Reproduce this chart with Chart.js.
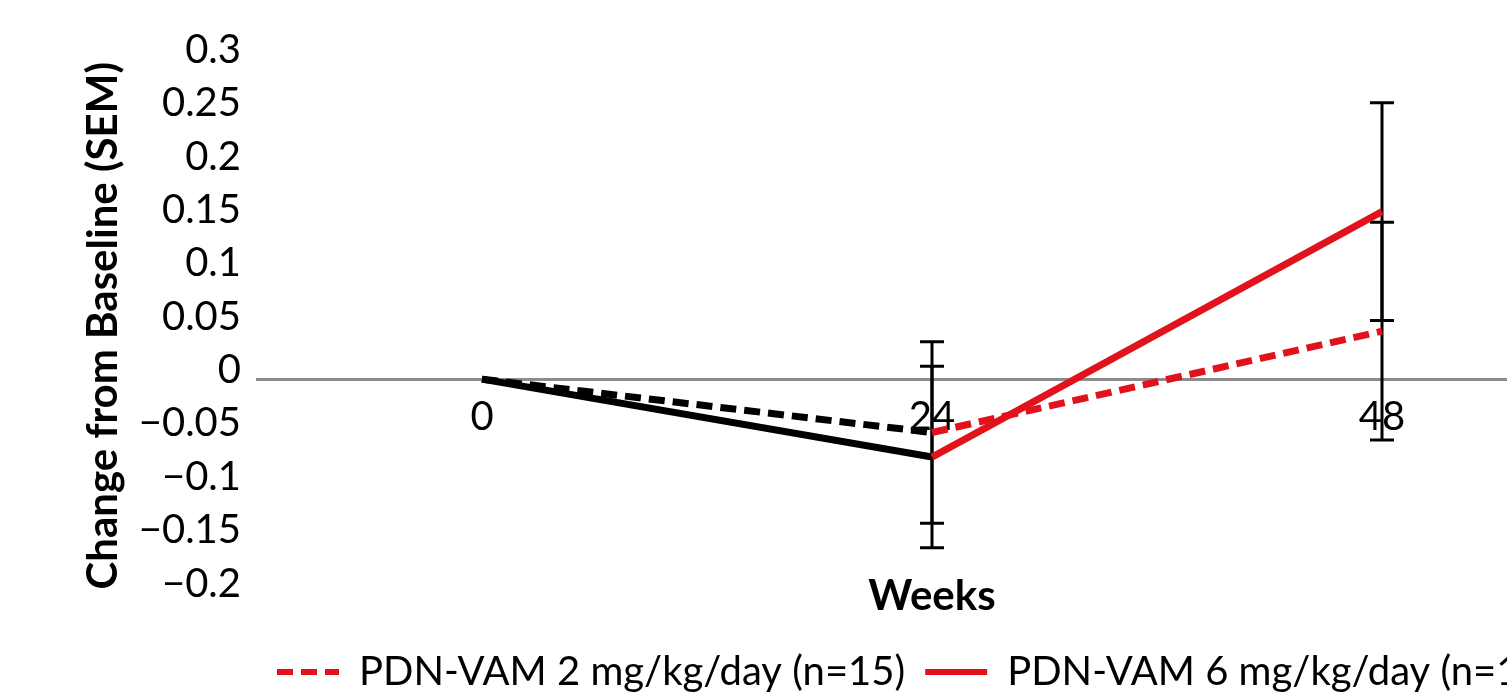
<!DOCTYPE html>
<html>
<head>
<meta charset="utf-8">
<script src="https://cdn.jsdelivr.net/npm/chart.js@4.4.1/dist/chart.umd.min.js"></script>
<style>
	html, body { margin: 0; padding: 0; background: #fff; overflow: hidden; }
	#wrap { position: relative; width: 1607px; height: 702px; }
</style>
</head>
<body>
<div id="wrap"><canvas id="graphique"></canvas></div>
<script>
// Weeks on the x axis
const weeks = ["0", "24", "48"];

// Mean change from baseline, first period (black) and after switch (red)
const black2mg = [0, -0.05, null];
const black6mg = [0, -0.073, null];
const red2mg = [null, -0.05, 0.045];
const red6mg = [null, -0.073, 0.157];

// SEM for the error bars
const black2mgSem = [null, 0.085, null];
const black6mgSem = [null, 0.085, null];
const red2mgSem = [null, null, 0.102];
const red6mgSem = [null, null, 0.102];

const RED = "#e2121d";
const BLACK = "#000000";

Chart.defaults.font.family = "Lato";
Chart.defaults.color = "#000";

// draws the SEM bars from the y scale
const errorBars = {
	id: "errorBars",
	beforeDatasetsDraw(chart) {
		const ctx = chart.ctx;
		const yScale = chart.scales.y;
		ctx.save();
		ctx.strokeStyle = "#000";
		ctx.lineWidth = 3;
		chart.data.datasets.forEach((ds, i) => {
			const meta = chart.getDatasetMeta(i);
			ds.sem.forEach((e, j) => {
				if (e == null || ds.data[j] == null) return;
				const x = meta.data[j].x;
				const top = yScale.getPixelForValue(ds.data[j] + e);
				const bottom = yScale.getPixelForValue(ds.data[j] - e);
				ctx.beginPath();
				ctx.moveTo(x, top);
				ctx.lineTo(x, bottom);
				ctx.moveTo(x - 12, top);
				ctx.lineTo(x + 12, top);
				ctx.moveTo(x - 12, bottom);
				ctx.lineTo(x + 12, bottom);
				ctx.stroke();
			});
		});
		ctx.restore();
	}
};

function formatTick(v) {
	const n = parseFloat(Math.abs(v).toFixed(2));
	return (v < -1e-9 ? "\u2212" : "") + n;
}

const data = {
	labels: weeks,
	datasets: [
		{ label: "PDN-VAM 2 mg/kg/day (n=15)", data: red2mg, sem: red2mgSem, inLegend: true,
			borderColor: RED, backgroundColor: RED, borderWidth: 7, borderDash: [16, 8] },
		{ label: "PDN-VAM 6 mg/kg/day (n=14)", data: red6mg, sem: red6mgSem, inLegend: true,
			borderColor: RED, backgroundColor: RED, borderWidth: 7 },
		{ label: "PDN 2 mg/kg/day group, weeks 0-24", data: black2mg, sem: black2mgSem, inLegend: false,
			borderColor: BLACK, backgroundColor: BLACK, borderWidth: 7, borderDash: [16, 8] },
		{ label: "PDN 6 mg/kg/day group, weeks 0-24", data: black6mg, sem: black6mgSem, inLegend: false,
			borderColor: BLACK, backgroundColor: BLACK, borderWidth: 7 }
	]
};

const config = {
	type: "line",
	data: data,
	options: {
		responsive: true,
		maintainAspectRatio: false,
		animation: false,
		layout: { padding: { top: 59, left: 60, right: 0, bottom: 0 } },
		elements: {
			line: { tension: 0, fill: false, borderCapStyle: "butt" },
			point: { radius: 0, hoverRadius: 0 }
		},
		scales: {
			x: {
				position: { y: 0 },
				offset: true,
				grid: { display: false, drawTicks: false },
				border: { display: true, color: "#8c8c8c", width: 3 },
				ticks: { padding: 14, font: { size: 40 }, color: "#000", maxRotation: 0 }
			},
			y: {
				min: -0.2,
				max: 0.3,
				grid: { display: false, drawTicks: false },
				border: { display: false },
				ticks: { stepSize: 0.05, padding: 16, labelOffset: -9, font: { size: 40 }, color: "#000",
					callback: v => formatTick(v) },
				title: { display: true, text: "Change from Baseline (SEM)", color: "#000",
					font: { size: 42, weight: "bold" }, padding: { top: 18, bottom: 0 } },
				afterFit: s => { s.width = 197; }
			}
		},
		plugins: {
			title: {
				display: true,
				text: "Weeks",
				position: "bottom",
				fullSize: false,
				weight: 500,
				color: "#000",
				font: { size: 42, weight: "bold" },
				padding: { top: -21, bottom: 10 }
			},
			legend: {
				position: "bottom",
				fullSize: false,
				align: "start",
				labels: {
					usePointStyle: true,
					pointStyleWidth: 62,
					padding: 20,
					color: "#000",
					font: { size: 40 },
					generateLabels: chart => chart.data.datasets
						.map((ds, i) => ({
							text: ds.label,
							fillStyle: ds.borderColor,
							strokeStyle: ds.borderColor,
							lineWidth: 6,
							lineDash: ds.borderDash || [],
							pointStyle: "line",
							hidden: false,
							datasetIndex: i
						}))
						.filter(item => chart.data.datasets[item.datasetIndex].inLegend)
				}
			},
			tooltip: { enabled: false }
		}
	},
	plugins: [errorBars]
};

new Chart(document.querySelector("#graphique"), config);
</script>
</body>
</html>
